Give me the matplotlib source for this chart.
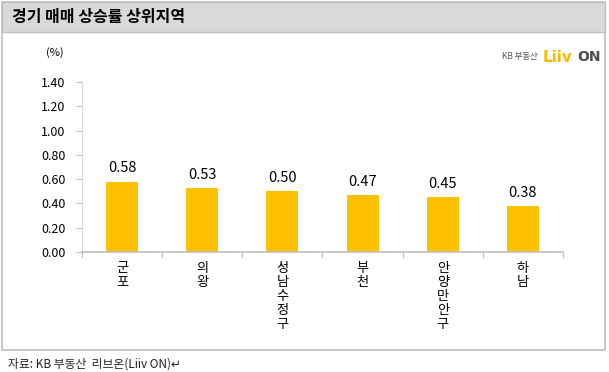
import matplotlib

matplotlib.use("Agg")
import matplotlib.pyplot as plt
from matplotlib.patches import Rectangle

plt.rcParams["font.family"] = ["Noto Sans CJK KR", "DejaVu Sans"]

regions = ["군포", "의왕", "성남수정구", "부천", "안양만안구", "하남"]
rates = [0.58, 0.53, 0.50, 0.47, 0.45, 0.38]
yticks = [0.0, 0.2, 0.4, 0.6, 0.8, 1.0, 1.2, 1.4]

W, H = 609, 372


def fx(px):
    return px / W


def fy(py):
    return 1 - py / H


fig = plt.figure(figsize=(W / 100, H / 100), dpi=100)

# outer frame and title band
fig.patches.append(Rectangle((fx(2), fy(350)), fx(603), 348 / H, transform=fig.transFigure,
                             facecolor="white", edgecolor="#BFBFBF", lw=1.2, zorder=-10))
fig.patches.append(Rectangle((fx(2), fy(32)), fx(603), 30 / H, transform=fig.transFigure,
                             facecolor="#D9D9D9", edgecolor="#BFBFBF", lw=1.0, zorder=-9))
fig.text(fx(12), fy(17), "경기 매매 상승률 상위지역", fontsize=11.5, fontweight="bold",
         va="center", ha="left", color="#000000")

# logo
fig.text(fx(538), fy(56), "KB 부동산", fontsize=6, ha="right", va="center", color="#555555")
fig.text(fx(543), fy(57), "Liiv", fontsize=11, fontweight="bold", ha="left", va="center",
         color="#FFB800", family="DejaVu Sans")
fig.text(fx(577), fy(57), "ON", fontsize=10, fontweight="bold", ha="left", va="center",
         color="#4D4D4D", family="DejaVu Sans")

ax = fig.add_axes([fx(82), fy(252), fx(563 - 82), (252 - 82) / H])
ax.patch.set_alpha(0)
x = range(len(regions))
bars = ax.bar(x, rates, width=0.4, color="#FFC000", zorder=2)
for b, v in zip(bars, rates):
    ax.text(b.get_x() + b.get_width() / 2, v + 0.05, f"{v:.2f}", ha="center", va="bottom",
            fontsize=10.5, color="#000000")

ax.set_xlim(-0.5, len(regions) - 0.5)
ax.set_ylim(0, 1.4)
ax.set_yticks(yticks)
ax.set_yticklabels([f"{t:.2f}" for t in yticks], fontsize=9)
ax.set_xticks([i - 0.5 for i in range(len(regions) + 1)], minor=False)
ax.set_xticklabels([])
ax.set_xticks(list(x), minor=True)
ax.set_xticklabels(["\n".join(r) for r in regions], minor=True, fontsize=9.5,
                   va="top", linespacing=1.1)
ax.tick_params(axis="x", which="minor", length=0, pad=7)
ax.tick_params(axis="x", which="major", length=4, color="#BFBFBF", direction="out")
ax.tick_params(axis="y", length=4, color="#BFBFBF", pad=8)
for s in ["top", "right"]:
    ax.spines[s].set_visible(False)
ax.spines["left"].set_color("#D9D9D9")
ax.spines["bottom"].set_color("#BFBFBF")
ax.spines["bottom"].set_linewidth(1.2)

fig.text(fx(55), fy(53), "(%)", fontsize=8, ha="center", va="center")

fig.text(fx(8), fy(364), "자료: KB 부동산  리브온(Liiv ON)↵", fontsize=8.5, ha="left",
         va="center", color="#222222")

fig.savefig("out.png", dpi=100)
